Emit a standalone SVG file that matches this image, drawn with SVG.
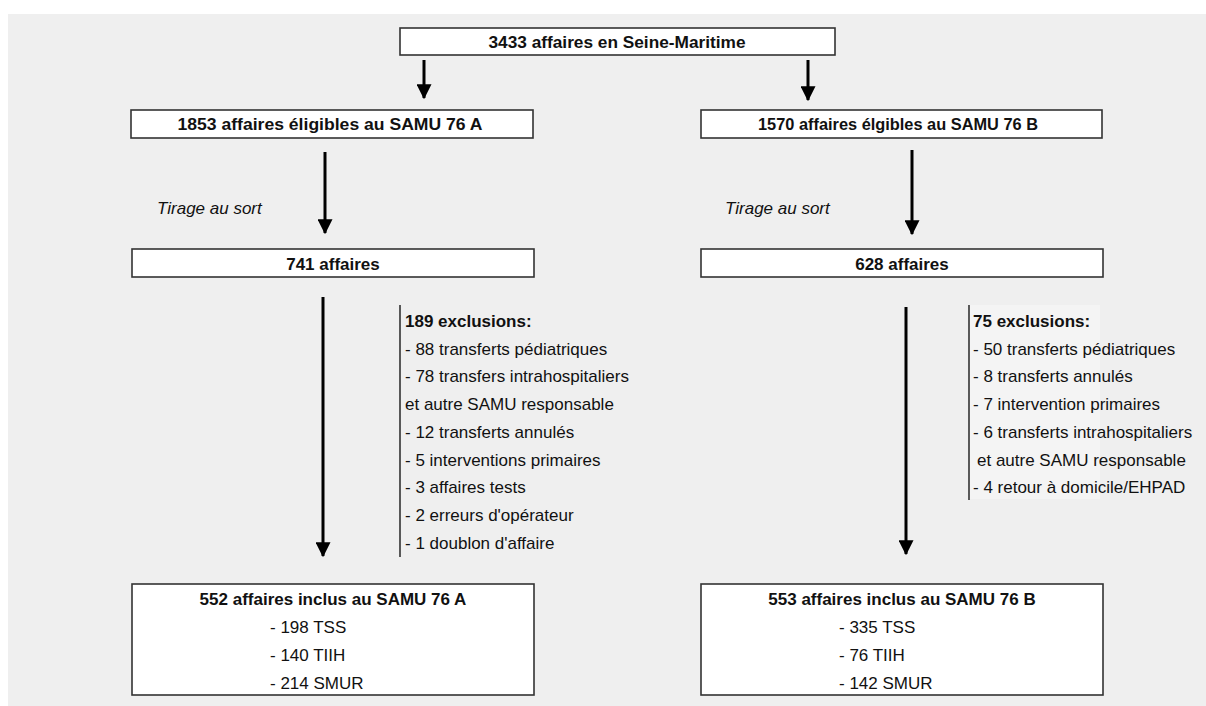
<svg xmlns="http://www.w3.org/2000/svg" width="1206" height="706" viewBox="0 0 1206 706">
<defs>
<marker id="ah" markerWidth="5" markerHeight="5" refX="4.6" refY="2.5" orient="auto" markerUnits="strokeWidth">
<path d="M0,0 L5,2.5 L0,5 Z" fill="#000"/>
</marker>
<style>
.box{fill:#fff;stroke:#333;stroke-width:1.6}
.hb{font-family:"Liberation Sans",Arial,sans-serif;font-weight:bold;font-size:16.5px;fill:#111;text-anchor:middle}
.b{font-family:"Liberation Sans",Arial,sans-serif;font-weight:bold;font-size:17px;fill:#111}
.t{font-family:"Liberation Sans",Arial,sans-serif;font-size:17px;fill:#111}
.it{font-family:"Liberation Sans",Arial,sans-serif;font-style:italic;font-size:17px;fill:#111}
.c{stroke:#000;stroke-width:3;fill:none;marker-end:url(#ah)}
.bar{stroke:#333;stroke-width:1.6}
</style>
</defs>
<rect x="8" y="14" width="1198" height="692" fill="#efefef"/>
<rect x="969" y="305" width="131" height="194" fill="#f4f4f4"/>
<g id="connectors">
<line class="c" x1="424" y1="60" x2="424" y2="98"/>
<line class="c" x1="808" y1="60" x2="808" y2="100"/>
<line class="c" x1="325" y1="152" x2="325" y2="233"/>
<line class="c" x1="912" y1="150" x2="912" y2="234"/>
<line class="c" x1="323" y1="297" x2="323" y2="556"/>
<line class="c" x1="906" y1="307" x2="906" y2="554"/>
</g>
<g id="n-top">
<rect class="box" x="400" y="28" width="435" height="27"/>
<text class="hb" x="617" y="47.5" textLength="257" lengthAdjust="spacingAndGlyphs">3433 affaires en Seine-Maritime</text>
</g>
<g id="n-eligA">
<rect class="box" x="131" y="110" width="402" height="28"/>
<text class="hb" x="330" y="130" textLength="305" lengthAdjust="spacingAndGlyphs">1853 affaires éligibles au SAMU 76 A</text>
</g>
<g id="n-eligB">
<rect class="box" x="701" y="110" width="401" height="28"/>
<text class="hb" x="898" y="130" textLength="280" lengthAdjust="spacingAndGlyphs">1570 affaires élgibles au SAMU 76 B</text>
</g>
<g id="lbl-tirageA"><text class="it" x="157" y="214">Tirage au sort</text></g>
<g id="lbl-tirageB"><text class="it" x="725" y="214">Tirage au sort</text></g>
<g id="n-741">
<rect class="box" x="132" y="249" width="402" height="28"/>
<text class="b" x="333" y="270" text-anchor="middle">741 affaires</text>
</g>
<g id="n-628">
<rect class="box" x="701" y="249" width="402" height="28"/>
<text class="b" x="902" y="270" text-anchor="middle">628 affaires</text>
</g>
<g id="n-exclA">
<line class="bar" x1="400" y1="305" x2="400" y2="557"/>
<text class="b" x="405" y="327">189 exclusions:</text>
<text class="t" x="405" y="354.7">- 88 transferts pédiatriques</text>
<text class="t" x="405" y="382.4">- 78 transfers intrahospitaliers</text>
<text class="t" x="405" y="410.1">et autre SAMU responsable</text>
<text class="t" x="405" y="437.8">- 12 transferts annulés</text>
<text class="t" x="405" y="465.5">- 5 interventions primaires</text>
<text class="t" x="405" y="493.2">- 3 affaires tests</text>
<text class="t" x="405" y="520.9">- 2 erreurs d'opérateur</text>
<text class="t" x="405" y="548.6">- 1 doublon d'affaire</text>
</g>
<g id="n-exclB">
<line class="bar" x1="969" y1="305" x2="969" y2="500"/>
<text class="b" x="973" y="327">75 exclusions:</text>
<text class="t" x="973" y="354.7">- 50 transferts pédiatriques</text>
<text class="t" x="973" y="382.4">- 8 transferts annulés</text>
<text class="t" x="973" y="410.1">- 7 intervention primaires</text>
<text class="t" x="973" y="437.8">- 6 transferts intrahospitaliers</text>
<text class="t" x="977" y="465.5">et autre SAMU responsable</text>
<text class="t" x="973" y="493.2">- 4 retour à domicile/EHPAD</text>
</g>
<g id="n-inclA">
<rect class="box" x="132" y="584" width="402" height="111"/>
<text class="b" x="333" y="605" text-anchor="middle">552 affaires inclus au SAMU 76 A</text>
<text class="t" x="270" y="633">- 198 TSS</text>
<text class="t" x="270" y="661">- 140 TIIH</text>
<text class="t" x="270" y="689">- 214 SMUR</text>
</g>
<g id="n-inclB">
<rect class="box" x="701" y="584" width="402" height="111"/>
<text class="b" x="902" y="605" text-anchor="middle">553 affaires inclus au SAMU 76 B</text>
<text class="t" x="839" y="633">- 335 TSS</text>
<text class="t" x="839" y="661">- 76 TIIH</text>
<text class="t" x="839" y="689">- 142 SMUR</text>
</g>
</svg>
